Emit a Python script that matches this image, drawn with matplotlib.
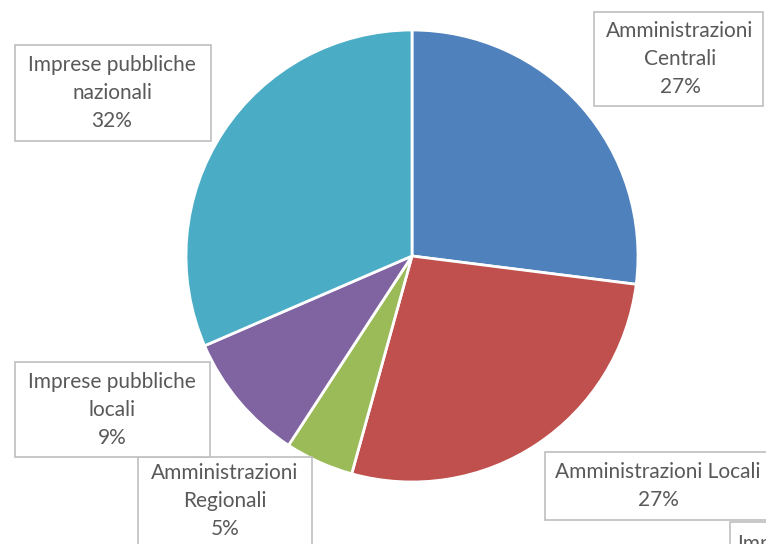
import matplotlib.pyplot as plt
from matplotlib.patches import Rectangle

# quota per comparto
labels = ['Amministrazioni\nCentrali', 'Amministrazioni Locali', 'Amministrazioni\nRegionali',
          'Imprese pubbliche\nlocali', 'Imprese pubbliche\nnazionali']
values = [27.0, 27.3, 4.9, 9.3, 31.5]
colors = ['#4F81BD', '#C0504D', '#9BBB59', '#8064A2', '#4BACC6']

W, H = 766, 544
fig = plt.figure(figsize=(W / 100, H / 100), dpi=100)

cx, cy, r = 412, 256, 226
ax = fig.add_axes([(cx - r) / W, (H - cy - r) / H, 2 * r / W, 2 * r / H])
ax.pie(values, colors=colors, startangle=90, counterclock=False,
       wedgeprops=dict(edgecolor='white', linewidth=2))
ax.set_xlim(-1, 1)
ax.set_ylim(-1, 1)
ax.set_aspect('equal')
ax.axis('off')

# label boxes: (x0, y0, x1, y1) in pixels, top-left origin
boxes = [(594, 12, 763, 106), (545, 452, 772, 520), (138, 457, 312, 550),
         (15, 362, 210, 457), (15, 45, 211, 141)]
centers = [(680, 59), (658, 486), (225, 501), (112, 410), (112, 93)]

for lab, v, (x0, y0, x1, y1), (tx, ty) in zip(labels, values, boxes, centers):
    fig.patches.append(Rectangle((x0 / W, 1 - y1 / H), (x1 - x0) / W, (y1 - y0) / H,
                                 transform=fig.transFigure, facecolor='white',
                                 edgecolor='#BFBFBF', linewidth=1.2))
    txt = lab + '\n' + f'{round(v):.0f}%'
    fig.text(tx / W, 1 - ty / H, txt, ha='center', va='center', fontsize=15,
             color='#595959', family='Lato', linespacing=1.5)

# partially visible label at bottom-right corner
fig.patches.append(Rectangle((730 / W, 1 - 560 / H), 80 / W, 38 / H, transform=fig.transFigure,
                             facecolor='white', edgecolor='#BFBFBF', linewidth=1.2))
fig.text(737 / W, 1 - 544 / H, 'Imprese', ha='left', va='center', fontsize=15,
         color='#595959', family='Lato')

plt.savefig('out.png', dpi=100)
